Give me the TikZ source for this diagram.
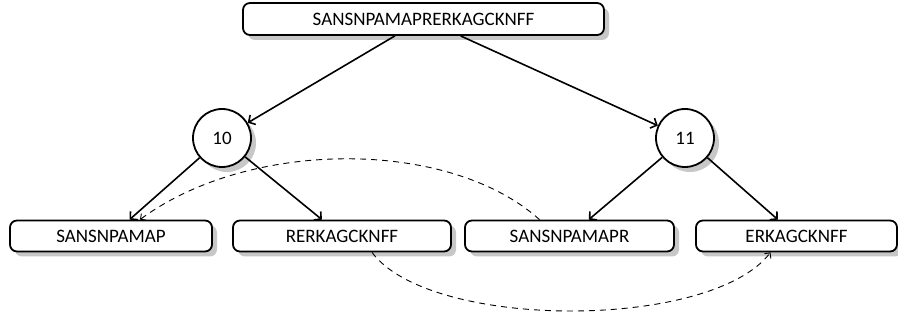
\documentclass[tikz,border=0pt]{standalone}
\usepackage{fontspec}
\setmainfont{Carlito}
\usetikzlibrary{shadows,arrows.meta}
\begin{document}
\begin{tikzpicture}[x=1pt,y=-1pt,
  shade/.style={drop shadow={shadow xshift=5pt,shadow yshift=-5pt,fill=black!22,opacity=1}},
  seqbox/.style={draw,line width=1.8pt,rounded corners=7pt,fill=white,
    minimum height=31pt,inner sep=0pt,font=\fontsize{19}{22}\selectfont,shade},
  idx/.style={draw,circle,line width=1.8pt,fill=white,minimum size=58pt,
    inner sep=0pt,font=\fontsize{19}{22}\selectfont,shade},
  link/.style={line width=1.6pt,-{Straight Barb[length=5pt,width=11pt,line width=1.6pt]}},
  jump/.style={line width=0.9pt,dash pattern=on 6pt off 5pt,
    -{Straight Barb[length=4pt,width=8pt,line width=0.9pt]}}
]
\useasboundingbox (0,0) rectangle (898,323);

% whole sequence
\node[seqbox,minimum width=361pt,minimum height=32pt] (top) at (423.5,19) {SANSNPAMAPRERKAGCKNFF};

% split positions
\node[idx] (c10) at (222,138) {10};
\node[idx] (c11) at (685,138) {11};

% fragments
\node[seqbox,minimum width=202pt] (b1) at (111,236) {SANSNPAMAP};
\node[seqbox,minimum width=218pt] (b2) at (342,236) {RERKAGCKNFF};
\node[seqbox,minimum width=209pt] (b3) at (569.5,236) {SANSNPAMAPR};
\node[seqbox,minimum width=201pt] (b4) at (796.5,236) {ERKAGCKNFF};

% tree edges
\draw[link] (top) -- (c10);
\draw[link] (top) -- (c11);
\draw[link] (c10) -- (b1);
\draw[link] (c10) -- (b2);
\draw[link] (c11) -- (b3);
\draw[link] (c11) -- (b4);

% correspondences between fragments
\draw[jump] ([xshift=-30pt]b3.north) .. controls +(-90,-81) and +(110,-81) .. ([xshift=29pt]b1.north);
\draw[jump] ([xshift=30pt]b2.south) .. controls +(58,78) and +(-60,78) .. ([xshift=-26pt]b4.south);
\end{tikzpicture}
\end{document}
